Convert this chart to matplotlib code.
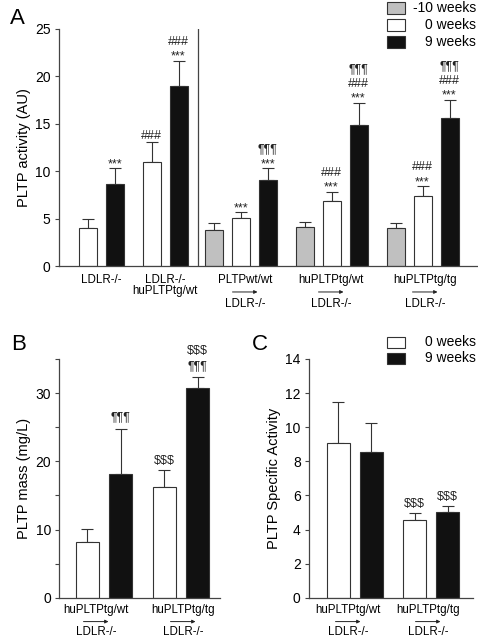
import numpy as np
import matplotlib
matplotlib.use("Agg")
import matplotlib.pyplot as plt
from matplotlib.patches import Rectangle
from matplotlib.transforms import offset_copy

plt.rcParams['font.family'] = ['Liberation Sans', 'DejaVu Sans']

# ---------------- data ----------------
# panel A: PLTP activity (AU)
groups_A = ['LDLR-/-', 'LDLR-/-\nhuPLTPtg/wt', 'PLTPwt/wt', 'huPLTPtg/wt', 'huPLTPtg/tg']
recipient_A = ['', '', 'LDLR-/-', 'LDLR-/-', 'LDLR-/-']
act_m10 = [np.nan, np.nan, 3.85, 4.1, 4.0]
act_m10_sem = [np.nan, np.nan, 0.7, 0.55, 0.55]
act_0 = [4.0, 11.0, 5.05, 6.9, 7.4]
act_0_sem = [0.95, 2.05, 0.6, 0.9, 1.0]
act_9 = [8.7, 19.0, 9.05, 14.9, 15.6]
act_9_sem = [1.6, 2.65, 1.25, 2.3, 1.9]
# significance marks, listed bottom to top
sig_A_0 = [[], ['###'], ['***'], ['***', '###'], ['***', '###']]
sig_A_9 = [['***'], ['***', '###'], ['***', '¶¶¶'], ['***', '###', '¶¶¶'], ['***', '###', '¶¶¶']]

# panels B and C
groups_BC = ['huPLTPtg/wt', 'huPLTPtg/tg']
recipient_BC = ['LDLR-/-', 'LDLR-/-']
mass_0 = [8.2, 16.2]
mass_0_sem = [1.9, 2.5]
mass_9 = [18.2, 30.7]
mass_9_sem = [6.6, 1.6]
sig_B_0 = [[], ['$$$']]
sig_B_9 = [['¶¶¶'], ['¶¶¶', '$$$']]

spec_0 = [9.1, 4.55]
spec_0_sem = [2.4, 0.4]
spec_9 = [8.55, 5.0]
spec_9_sem = [1.7, 0.35]
sig_C_0 = [[], ['$$$']]
sig_C_9 = [[], ['$$$']]

# ---------------- styling ----------------
W, H = 478, 638
EDGE = '#333333'
SPINE = '#444444'
GRAY = '#c0c0c0'
BLACK = '#111111'
# gap (points) between error bar cap and bottom of a mark stack, by bottom symbol
first_offset = {'*': -1.2, '#': 0.3, '¶': 4.0, '$': 2.5}


def style_axes(ax):
    for s in ['top', 'right']:
        ax.spines[s].set_visible(False)
    for s in ['left', 'bottom']:
        ax.spines[s].set_color(SPINE)
        ax.spines[s].set_linewidth(0.9)
    ax.tick_params(axis='y', which='both', direction='out', length=3,
                   width=0.8, color=SPINE, labelsize=10, pad=3)
    ax.tick_params(axis='x', bottom=False, labelbottom=False)


def draw_bars(ax, xs, vals, sems, color, width):
    vals = np.asarray(vals, float)
    sems = np.asarray(sems, float)
    xs = np.asarray(xs, float)
    ok = ~np.isnan(vals)
    ax.bar(xs[ok], vals[ok], width, color=color, edgecolor=EDGE,
           linewidth=0.8, zorder=2)
    ax.errorbar(xs[ok], vals[ok], yerr=[np.zeros(ok.sum()), sems[ok]],
                fmt='none', ecolor=EDGE, elinewidth=0.8, capsize=4.5,
                capthick=0.8, zorder=1)


def draw_sig(ax, xs, vals, sems, marks_list):
    for x, v, s, marks in zip(xs, vals, sems, marks_list):
        if not marks:
            continue
        txt = '\n'.join(marks[::-1])
        ax.annotate(txt, (x, v + s), xytext=(0, first_offset[marks[0][0]]),
                    textcoords='offset points', ha='center', va='bottom',
                    fontsize=9, linespacing=1.32, color='#222222')


def draw_categories(ax, xs, names, recips, dy):
    fig = ax.figure
    for x, name, rec in zip(xs, names, recips):
        lines = name.split('\n')
        for j, ln in enumerate(lines):
            tr = offset_copy(ax.get_xaxis_transform(), fig=fig, y=-(dy[0] + j * 8.3), units='points')
            ax.text(x, 0, ln, transform=tr, ha='center', va='center', fontsize=8.3)
        if rec:
            tr = offset_copy(ax.get_xaxis_transform(), fig=fig, y=-dy[1], units='points')
            ax.annotate('', xy=(x + 12.5, 0), xytext=(x - 12.5, 0), xycoords=tr, textcoords=tr,
                        arrowprops=dict(arrowstyle='-|>', lw=0.7, color='#222222',
                                        mutation_scale=5, shrinkA=0, shrinkB=0))
            tr = offset_copy(ax.get_xaxis_transform(), fig=fig, y=-dy[2], units='points')
            ax.text(x, 0, rec, transform=tr, ha='center', va='center', fontsize=8.3)


def fig_rect(fig, x0, y0, x1, y1, color):
    fig.add_artist(Rectangle((x0 / W, 1 - y1 / H), (x1 - x0) / W, (y1 - y0) / H,
                             transform=fig.transFigure, facecolor=color,
                             edgecolor=EDGE, linewidth=0.8))


fig = plt.figure(figsize=(W / 100, H / 100), dpi=100)

# ---------------- panel A ----------------
axA = fig.add_axes([59 / W, 1 - 266 / H, (477 - 59) / W, (266 - 29) / H])
style_axes(axA)
centers_A = np.array([101.5, 165, 241, 331.5, 422.5])
two_bar = np.array([True, True, False, False, False])
bw_A = 18
x_m10 = centers_A - 27
x_0 = np.where(two_bar, centers_A - 13.5, centers_A)
x_9 = np.where(two_bar, centers_A + 13.5, centers_A + 27)
draw_bars(axA, x_m10, act_m10, act_m10_sem, GRAY, bw_A)
draw_bars(axA, x_0, act_0, act_0_sem, 'white', bw_A)
draw_bars(axA, x_9, act_9, act_9_sem, BLACK, bw_A)
draw_sig(axA, x_0, act_0, act_0_sem, sig_A_0)
draw_sig(axA, x_9, act_9, act_9_sem, sig_A_9)
axA.axvline(198, color=SPINE, lw=0.9)
axA.set_xlim(59, 477)
axA.set_ylim(0, 25)
axA.set_yticks([0, 5, 10, 15, 20, 25])
axA.set_ylabel('PLTP activity (AU)', fontsize=10.5, labelpad=3)
label_x_A = np.array([101.5, 165, 245, 331, 425])
draw_categories(axA, label_x_A, groups_A, recipient_A, (10, 18.7, 27.4))

# legend A
leg_labels_A = ['-10 weeks', '0 weeks', '9 weeks']
leg_colors_A = [GRAY, 'white', BLACK]
for i, (lab, col) in enumerate(zip(leg_labels_A, leg_colors_A)):
    yc = 8 + i * 17
    fig_rect(fig, 387, yc - 5.5, 405, yc + 5.5, col)
    fig.text(476 / W, 1 - yc / H, lab, ha='right', va='center', fontsize=10)

# ---------------- panel B ----------------
axB = fig.add_axes([59.3 / W, 1 - 597.7 / H, (220 - 59.3) / W, (597.7 - 359) / H])
style_axes(axB)
centers_BC_B = np.array([103.75, 180.75])
bw_BC = 23
xB0 = centers_BC_B - 16.75
xB9 = centers_BC_B + 16.75
draw_bars(axB, xB0, mass_0, mass_0_sem, 'white', bw_BC)
draw_bars(axB, xB9, mass_9, mass_9_sem, BLACK, bw_BC)
draw_sig(axB, xB0, mass_0, mass_0_sem, sig_B_0)
draw_sig(axB, xB9, mass_9, mass_9_sem, sig_B_9)
axB.set_xlim(59.3, 220)
axB.set_ylim(0, 35)
axB.set_yticks([0, 10, 20, 30])
axB.set_yticks([5, 15, 25, 35], minor=True)
axB.set_ylabel('PLTP mass (mg/L)', fontsize=10.5, labelpad=3)
draw_categories(axB, np.array([96, 183]), groups_BC, recipient_BC, (9, 17.2, 25))

# ---------------- panel C ----------------
axC = fig.add_axes([309 / W, 1 - 597.7 / H, (473 - 309) / W, (597.7 - 359) / H])
style_axes(axC)
centers_BC_C = np.array([354.5, 431.25])
xC0 = centers_BC_C - 16.5
xC9 = centers_BC_C + 16.5
draw_bars(axC, xC0, spec_0, spec_0_sem, 'white', bw_BC)
draw_bars(axC, xC9, spec_9, spec_9_sem, BLACK, bw_BC)
draw_sig(axC, xC0, spec_0, spec_0_sem, sig_C_0)
draw_sig(axC, xC9, spec_9, spec_9_sem, sig_C_9)
axC.set_xlim(309, 473)
axC.set_ylim(0, 14)
axC.set_yticks(np.arange(0, 15, 2))
axC.set_ylabel('PLTP Specific Activity', fontsize=10.5, labelpad=3)
draw_categories(axC, np.array([348, 428]), groups_BC, recipient_BC, (9, 17.2, 25))

# legend C
leg_labels_C = ['0 weeks', '9 weeks']
leg_colors_C = ['white', BLACK]
for i, (lab, col) in enumerate(zip(leg_labels_C, leg_colors_C)):
    yc = 342 + i * 16
    fig_rect(fig, 387, yc - 5.5, 405, yc + 5.5, col)
    fig.text(476 / W, 1 - yc / H, lab, ha='right', va='center', fontsize=10)

# panel letters
fig.text(10 / W, 1 - 24 / H, 'A', fontsize=16, va='baseline')
fig.text(11 / W, 1 - 350 / H, 'B', fontsize=16, va='baseline')
fig.text(252 / W, 1 - 350 / H, 'C', fontsize=16, va='baseline')

fig.savefig('out.png', dpi=100)
